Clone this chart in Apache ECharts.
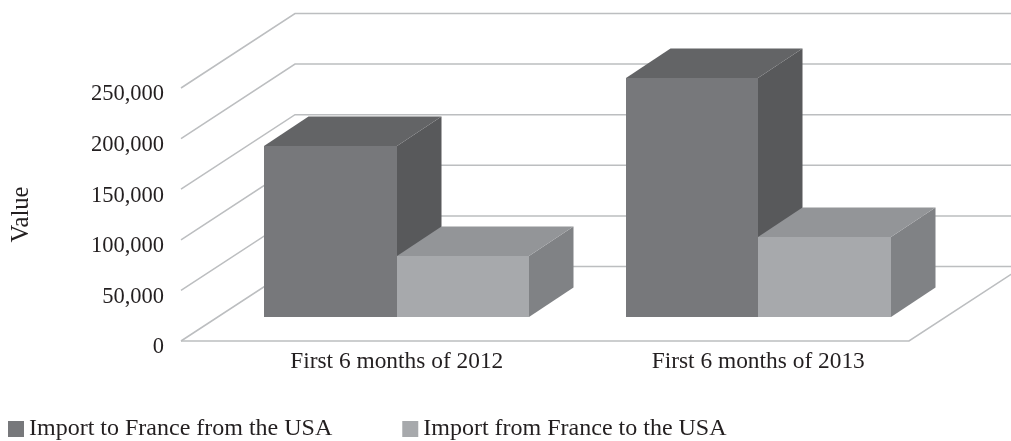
<!DOCTYPE html>
<html>
<head>
<meta charset="utf-8">
<style>html,body{margin:0;padding:0;background:#fff}#main{width:1011px;height:441px}</style>
<script src="https://cdn.jsdelivr.net/npm/echarts@6/dist/echarts.min.js"></script>
</head>
<body>
<div id="main"></div>
<script>
var categories = ['First 6 months of 2012', 'First 6 months of 2013'];
var importToFrance = [168400, 235600];
var importFromFrance = [59300, 78500];
var valueTicks = [0, 50000, 100000, 150000, 200000, 250000];

var fontName = '"Liberation Serif", serif';
var textColor = '#231f20';
var gridColor = '#bcbec0';

var darkFaces = {front: '#77787b', top: '#636466', side: '#58595b'};
var lightFaces = {front: '#a7a9ac', top: '#939598', side: '#808285'};

// front left corner of the wall lines sits left of the grid, the bars stand partway in the floor
var wallFrontX = -35, wallDepthX = 114, wallDepthY = 74.5;
var barLift = 24.5, barDepthX = 44.5, barDepthY = 29.5, barWidthRatio = 132.5 / 361.5;

function poly(points, color) {
	return {type: 'polygon', shape: {points: points}, style: {fill: color}};
}

function renderWall(params, api) {
	var p = api.coord([0, api.value(0)]);
	var left = params.coordSys.x + wallFrontX;
	var y = p[1];
	var children = [{
		type: 'polyline',
		shape: {points: [[left, y], [left + wallDepthX, y - wallDepthY], [1011, y - wallDepthY]]},
		style: {stroke: gridColor, lineWidth: 1.5, fill: null}
	}];
	if (api.value(0) === 0) {
		children.push({
			type: 'polyline',
			shape: {points: [[left, y], [left + 728, y], [left + 728 + wallDepthX, y - wallDepthY]]},
			style: {stroke: gridColor, lineWidth: 1.5, fill: null}
		});
	}
	return {type: 'group', children: children};
}

function barRenderer(faces, side) {
	return function (params, api) {
		var cat = api.value(0);
		var base = api.coord([cat, 0]);
		var top = api.coord([cat, api.value(1)]);
		var w = api.size([1, 0])[0] * barWidthRatio;
		// whole pixels, otherwise the dark side shows through the shared edge
		var x0 = Math.round(side < 0 ? base[0] - w : base[0]);
		var x1 = Math.round(side < 0 ? base[0] : base[0] + w);
		var y0 = Math.round(base[1] - barLift);
		var y1 = Math.round(top[1] - barLift);
		return {
			type: 'group',
			children: [
				poly([[x1, y0], [x1 + barDepthX, y0 - barDepthY], [x1 + barDepthX, y1 - barDepthY], [x1, y1]], faces.side),
				poly([[x0, y1], [x0 + barDepthX, y1 - barDepthY], [x1 + barDepthX, y1 - barDepthY], [x1, y1]], faces.top),
				poly([[x0, y0], [x1, y0], [x1, y1], [x0, y1]], faces.front)
			]
		};
	};
}

function pairs(values) {
	return values.map(function (v, i) { return [i, v]; });
}

var chart = echarts.init(document.getElementById('main'));
chart.setOption({
	animation: false,
	backgroundColor: '#fff',
	textStyle: {fontFamily: fontName, color: textColor},
	grid: {left: 216, width: 723, top: 88, height: 253, outerBoundsMode: 'none'},
	legend: {
		left: 8,
		top: 417,
		itemWidth: 16,
		itemHeight: 16,
		itemGap: 70,
		icon: 'rect',
		padding: 0,
		textStyle: {fontFamily: fontName, fontSize: 24, color: textColor},
		data: ['Import to France from the USA', 'Import from France to the USA']
	},
	xAxis: {
		type: 'category',
		data: categories,
		axisLine: {show: false},
		axisTick: {show: false},
		axisLabel: {margin: 9, fontFamily: fontName, fontSize: 23.4, color: textColor},
		splitLine: {show: false}
	},
	yAxis: {
		type: 'value',
		min: 0,
		max: 250000,
		interval: 50000,
		name: 'Value',
		nameLocation: 'middle',
		nameGap: 182,
		nameTextStyle: {fontFamily: fontName, fontSize: 24.5, color: textColor},
		axisLine: {show: false},
		axisTick: {show: false},
		splitLine: {show: false},
		axisLabel: {margin: 52, verticalAlign: 'top', lineHeight: 13, fontFamily: fontName, fontSize: 22.5, color: textColor}
	},
	series: [
		{
			type: 'custom',
			name: 'walls',
			silent: true,
			z: 1,
			renderItem: renderWall,
			encode: {y: 0},
			data: valueTicks.map(function (v) { return [v]; })
		},
		{
			type: 'custom',
			name: 'Import to France from the USA',
			z: 2,
			itemStyle: {color: darkFaces.front},
			renderItem: barRenderer(darkFaces, -1),
			encode: {x: 0, y: 1},
			data: pairs(importToFrance)
		},
		{
			type: 'custom',
			name: 'Import from France to the USA',
			z: 3,
			itemStyle: {color: lightFaces.front},
			renderItem: barRenderer(lightFaces, 1),
			encode: {x: 0, y: 1},
			data: pairs(importFromFrance)
		}
	]
});
</script>
</body>
</html>
